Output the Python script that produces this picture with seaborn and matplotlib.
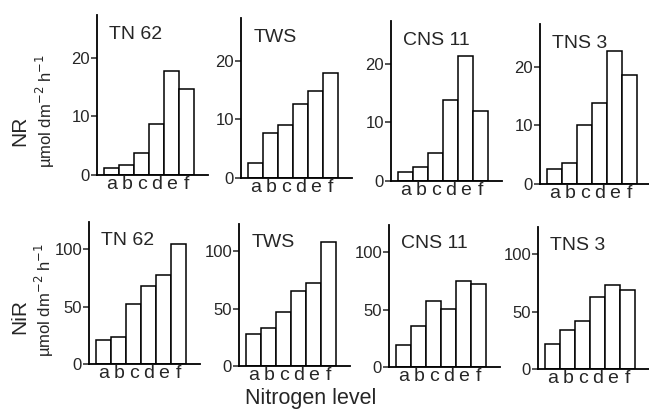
import matplotlib
matplotlib.use("Agg")
import matplotlib.pyplot as plt
import seaborn as sns
import pandas as pd

sns.set_style("white")
plt.rcParams['font.family'] = ['Liberation Sans', 'DejaVu Sans']

levels = ["a", "b", "c", "d", "e", "f"]
cultivars = ["TN 62", "TWS", "CNS 11", "TNS 3"]

nr_tn62 = [1.2, 1.7, 3.8, 8.7, 17.8, 14.7]
nr_tws = [2.5, 7.6, 9.1, 12.7, 14.8, 17.9]
nr_cns11 = [1.5, 2.4, 4.7, 13.8, 21.3, 11.9]
nr_tns3 = [2.5, 3.6, 10.1, 13.8, 22.7, 18.6]

nir_tn62 = [20.7, 23.4, 52.6, 68.0, 78.0, 105.0]
nir_tws = [27.8, 33.6, 47.4, 65.5, 72.2, 108.0]
nir_cns11 = [19.0, 35.7, 57.6, 50.9, 75.1, 72.8]
nir_tns3 = [21.9, 34.4, 42.0, 63.0, 73.5, 69.4]

nr_rows = [nr_tn62, nr_tws, nr_cns11, nr_tns3]
nir_rows = [nir_tn62, nir_tws, nir_cns11, nir_tns3]

nr_ticks = [0, 10, 20]
nir_ticks = [0, 50, 100]

W, H = 649, 412
fig = plt.figure(figsize=(W / 100, H / 100), dpi=100)

top_left = [97, 241, 391, 540]
top_base = [175, 178, 181, 184]
bot_left = [89, 239, 389, 538]
bot_base = [364, 366, 367, 369]
ax_w = 111
narrow = ['Liberation Sans Narrow', 'Liberation Sans', 'DejaVu Sans']


def make_panel(left, base, height, values, ylim, ticks, title):
    ax = fig.add_axes([left / W, 1 - base / H, ax_w / W, height / H])
    df = pd.DataFrame({"level": levels, "value": values})
    sns.barplot(data=df, x="level", y="value", ax=ax, color="white",
                edgecolor="black", linewidth=1.1, width=1.0, saturation=1)
    ax.set_xlim(-0.97, 6.4)
    ax.set_ylim(0, ylim)
    ax.set_yticks(ticks)
    ax.set_yticklabels([str(t) for t in ticks], fontsize=12, family=narrow)
    ax.set_xticks(range(6))
    ax.set_xticklabels(levels, fontsize=14)
    ax.tick_params(axis="x", length=0, pad=1)
    ax.tick_params(axis="y", length=4, width=1.1, direction="out", pad=1,
                   left=True)
    ax.set_xlabel("")
    ax.set_ylabel("")
    for s in ["top", "right"]:
        ax.spines[s].set_visible(False)
    for s in ["left", "bottom"]:
        ax.spines[s].set_color("black")
        ax.spines[s].set_linewidth(1.3)
    ax.text(0.11, 0.93, title, transform=ax.transAxes, fontsize=14,
            ha="left", va="top")
    return ax


for i in range(4):
    make_panel(top_left[i], top_base[i], 160, nr_rows[i], 27.3, nr_ticks,
               cultivars[i])
    make_panel(bot_left[i], bot_base[i], 142, nir_rows[i], 124, nir_ticks,
               cultivars[i])

fig.text(20 / W, 1 - 131 / H, "NR", rotation=90, ha="center", va="center",
         fontsize=15)
fig.text(45 / W, 1 - 111 / H, r"µmol dm$^{-2}$ h$^{-1}$", rotation=90,
         ha="center", va="center", fontsize=12)
fig.text(20 / W, 1 - 316 / H, "NiR", rotation=90, ha="center", va="center",
         fontsize=15)
fig.text(44 / W, 1 - 300 / H, r"µmol dm$^{-2}$ h$^{-1}$", rotation=90,
         ha="center", va="center", fontsize=12)
fig.text(311 / W, 1 - 404 / H, "Nitrogen level", ha="center",
         va="baseline", fontsize=15.5)

fig.savefig("out.png", dpi=100)
